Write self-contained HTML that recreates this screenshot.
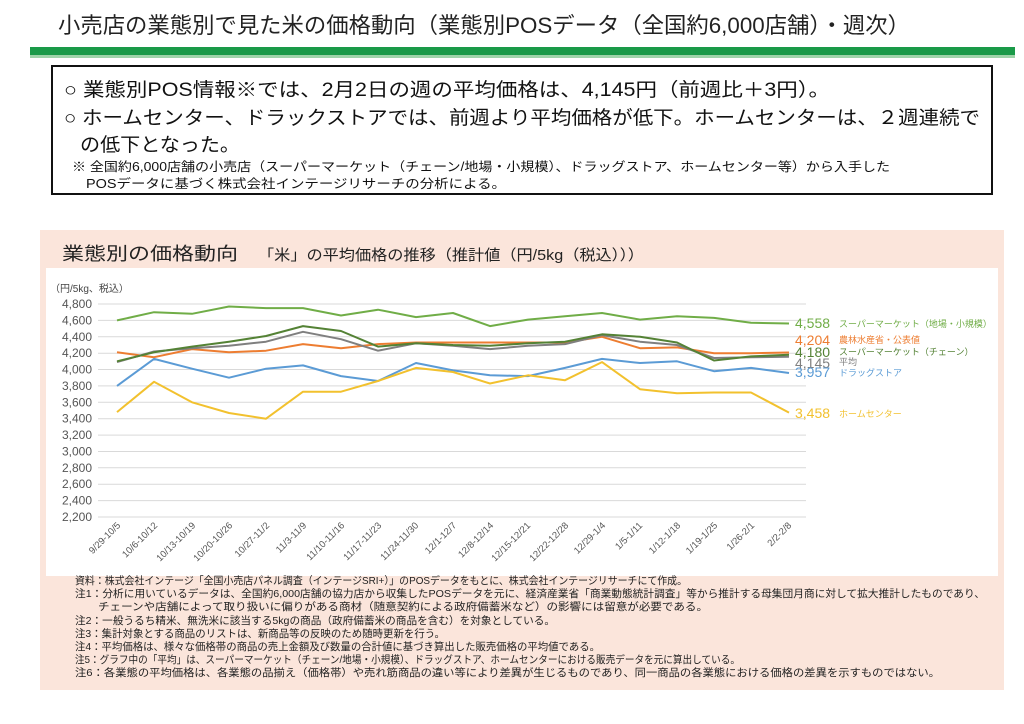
<!DOCTYPE html>
<html><head><meta charset="utf-8"><style>
html,body{margin:0;padding:0;background:#fff;}
svg{display:block;font-family:"Liberation Sans","Noto Sans CJK JP",sans-serif;}
</style></head><body>
<svg width="1024" height="724" viewBox="0 0 1024 724" xmlns="http://www.w3.org/2000/svg">
<rect width="1024" height="724" fill="#fff"/>
<text x="58" y="33" font-size="22" fill="#222" textLength="852" lengthAdjust="spacingAndGlyphs">小売店の業態別で見た米の価格動向（業態別POSデータ（全国約6,000店舗）・週次）</text>
<rect x="30" y="47" width="985" height="8" fill="#1a9a48"/>
<rect x="30" y="55" width="985" height="3" fill="#9fd4a9"/>
<rect x="52" y="66" width="940" height="128" fill="#fff" stroke="#111" stroke-width="2"/>
<text x="64" y="96" font-size="19" fill="#111" textLength="766" lengthAdjust="spacingAndGlyphs">○  業態別POS情報※では、2月2日の週の平均価格は、4,145円（前週比＋3円）。</text>
<text x="64" y="124" font-size="19" fill="#111" textLength="916" lengthAdjust="spacingAndGlyphs">○  ホームセンター、ドラックストアでは、前週より平均価格が低下。ホームセンターは、２週連続で</text>
<text x="80" y="151" font-size="19" fill="#111" textLength="160" lengthAdjust="spacingAndGlyphs">の低下となった。</text>
<text x="72" y="171" font-size="12.5" fill="#111" textLength="818" lengthAdjust="spacingAndGlyphs">※  全国約6,000店舗の小売店（スーパーマーケット（チェーン/地場・小規模）、ドラッグストア、ホームセンター等）から入手した</text>
<text x="86" y="188" font-size="12.5" fill="#111" textLength="420" lengthAdjust="spacingAndGlyphs">POSデータに基づく株式会社インテージリサーチの分析による。</text>

<rect x="40" y="230" width="964" height="460" fill="#fbe5db"/>
<text x="62" y="260" font-size="18" fill="#222" textLength="176" lengthAdjust="spacingAndGlyphs">業態別の価格動向</text>
<text x="258" y="260" font-size="15" fill="#222" textLength="386" lengthAdjust="spacingAndGlyphs">「米」の平均価格の推移（推計値（円/5kg（税込）））</text>
<rect x="46" y="268" width="952" height="308" fill="#fff"/>
<text x="50" y="292" font-size="10" fill="#444">（円/5kg、税込）</text>
<g stroke="#d9d9d9" stroke-width="1">
<line x1="98" x2="806" y1="304" y2="304"/><line x1="98" x2="806" y1="320.4" y2="320.4"/><line x1="98" x2="806" y1="336.8" y2="336.8"/><line x1="98" x2="806" y1="353.2" y2="353.2"/><line x1="98" x2="806" y1="369.5" y2="369.5"/><line x1="98" x2="806" y1="385.9" y2="385.9"/><line x1="98" x2="806" y1="402.3" y2="402.3"/><line x1="98" x2="806" y1="418.7" y2="418.7"/><line x1="98" x2="806" y1="435.1" y2="435.1"/><line x1="98" x2="806" y1="451.5" y2="451.5"/><line x1="98" x2="806" y1="467.8" y2="467.8"/><line x1="98" x2="806" y1="484.2" y2="484.2"/><line x1="98" x2="806" y1="500.6" y2="500.6"/><line x1="98" x2="806" y1="517" y2="517"/>
</g>
<g font-size="12" fill="#555" text-anchor="end">
<text x="92" y="308">4,800</text><text x="92" y="324.4">4,600</text><text x="92" y="340.8">4,400</text><text x="92" y="357.2">4,200</text><text x="92" y="373.5">4,000</text><text x="92" y="389.9">3,800</text><text x="92" y="406.3">3,600</text><text x="92" y="422.7">3,400</text><text x="92" y="439.1">3,200</text><text x="92" y="455.5">3,000</text><text x="92" y="471.8">2,800</text><text x="92" y="488.2">2,600</text><text x="92" y="504.6">2,400</text><text x="92" y="521">2,200</text>
</g>
<g font-size="9.5" fill="#555" text-anchor="end">
<text transform="translate(121,526) rotate(-45)">9/29-10/5</text>
<text transform="translate(158,526) rotate(-45)">10/6-10/12</text>
<text transform="translate(196,526) rotate(-45)">10/13-10/19</text>
<text transform="translate(233,526) rotate(-45)">10/20-10/26</text>
<text transform="translate(270,526) rotate(-45)">10/27-11/2</text>
<text transform="translate(307,526) rotate(-45)">11/3-11/9</text>
<text transform="translate(345,526) rotate(-45)">11/10-11/16</text>
<text transform="translate(382,526) rotate(-45)">11/17-11/23</text>
<text transform="translate(419,526) rotate(-45)">11/24-11/30</text>
<text transform="translate(457,526) rotate(-45)">12/1-12/7</text>
<text transform="translate(494,526) rotate(-45)">12/8-12/14</text>
<text transform="translate(531,526) rotate(-45)">12/15-12/21</text>
<text transform="translate(569,526) rotate(-45)">12/22-12/28</text>
<text transform="translate(606,526) rotate(-45)">12/29-1/4</text>
<text transform="translate(643,526) rotate(-45)">1/5-1/11</text>
<text transform="translate(681,526) rotate(-45)">1/12-1/18</text>
<text transform="translate(718,526) rotate(-45)">1/19-1/25</text>
<text transform="translate(755,526) rotate(-45)">1/26-2/1</text>
<text transform="translate(792,526) rotate(-45)">2/2-2/8</text>
</g>
<g fill="none" stroke-width="2" stroke-linejoin="round">
<polyline stroke="#70ad47" points="117,320.4 154,312.2 192,313.8 229,306.5 266,308.1 303,308.1 341,315.5 378,309.7 416,317.1 453,313 490,326.1 528,319.6 565,316.3 602,313 640,319.6 677,316.3 714,317.9 751,322.8 789,323.5"/>
<polyline stroke="#ed7d31" points="117,352.3 154,357.2 192,349.1 229,352.3 266,350.7 303,344.1 341,348.2 378,344.1 416,342.5 453,342.5 490,342.5 528,342.5 565,342.5 602,336.8 640,348.2 677,347.4 714,353.2 751,353.2 789,352.5"/>
<polyline stroke="#7f7f7f" points="117,362.1 154,351.5 192,348.2 229,345.8 266,341.7 303,331.8 341,339.2 378,350.7 416,343.3 453,345.8 490,349.1 528,345.8 565,344.1 602,335.1 640,341.7 677,345 714,358 751,357.2 789,356.8"/>
<polyline stroke="#548235" points="117,361.3 154,352.3 192,346.6 229,341.7 266,336 303,326.1 341,331 378,346.6 416,343.3 453,345 490,345.8 528,343.3 565,341.7 602,334.3 640,336.8 677,342.5 714,360.5 751,356.4 789,354.8"/>
<polyline stroke="#5b9bd5" points="117,385.9 154,358.9 192,368.7 229,377.7 266,368.7 303,365.4 341,376.1 378,381 416,363 453,370.4 490,375.3 528,376.1 565,367.9 602,358.9 640,363 677,361.3 714,371.2 751,367.9 789,373"/>
<polyline stroke="#f2c12e" points="117,412.1 154,381.8 192,402.3 229,413 266,418.7 303,391.7 341,391.7 378,381 416,367.9 453,372 490,383.5 528,375.3 565,380.2 602,362.1 640,389.2 677,393.3 714,392.5 751,392.5 789,412.6"/>
</g>
<g font-size="14">
<text x="795" y="328" fill="#70ad47">4,558</text>
<text x="795" y="345" fill="#ed7d31">4,204</text>
<text x="795" y="357" fill="#548235">4,180</text>
<text x="795" y="368" fill="#7f7f7f">4,145</text>
<text x="795" y="377" fill="#5b9bd5">3,957</text>
<text x="795" y="418" fill="#f2c12e">3,458</text>
</g>
<g font-size="9">
<text x="839" y="327" fill="#70ad47">スーパーマーケット（地場・小規模）</text>
<text x="839" y="343" fill="#ed7d31">農林水産省・公表値</text>
<text x="839" y="355" fill="#548235">スーパーマーケット（チェーン）</text>
<text x="839" y="365" fill="#7f7f7f">平均</text>
<text x="839" y="376" fill="#5b9bd5">ドラッグストア</text>
<text x="839" y="417" fill="#f2c12e">ホームセンター</text>
</g>
<g font-size="10.5" fill="#222" lengthAdjust="spacingAndGlyphs">
<text x="75" y="584" textLength="612" lengthAdjust="spacingAndGlyphs">資料：株式会社インテージ「全国小売店パネル調査（インテージSRI+）」のPOSデータをもとに、株式会社インテージリサーチにて作成。</text>
<text x="75" y="597" textLength="910" lengthAdjust="spacingAndGlyphs">注1：分析に用いているデータは、全国約6,000店舗の協力店から収集したPOSデータを元に、経済産業省「商業動態統計調査」等から推計する母集団月商に対して拡大推計したものであり、</text>
<text x="98" y="610" textLength="610" lengthAdjust="spacingAndGlyphs">チェーンや店舗によって取り扱いに偏りがある商材（随意契約による政府備蓄米など）の影響には留意が必要である。</text>
<text x="75" y="624" textLength="480" lengthAdjust="spacingAndGlyphs">注2：一般うるち精米、無洗米に該当する5kgの商品（政府備蓄米の商品を含む）を対象としている。</text>
<text x="75" y="637" textLength="370" lengthAdjust="spacingAndGlyphs">注3：集計対象とする商品のリストは、新商品等の反映のため随時更新を行う。</text>
<text x="75" y="650" textLength="525" lengthAdjust="spacingAndGlyphs">注4：平均価格は、様々な価格帯の商品の売上金額及び数量の合計値に基づき算出した販売価格の平均値である。</text>
<text x="75" y="663" textLength="665" lengthAdjust="spacingAndGlyphs">注5：グラフ中の「平均」は、スーパーマーケット（チェーン/地場・小規模）、ドラッグストア、ホームセンターにおける販売データを元に算出している。</text>
<text x="75" y="676" textLength="865" lengthAdjust="spacingAndGlyphs">注6：各業態の平均価格は、各業態の品揃え（価格帯）や売れ筋商品の違い等により差異が生じるものであり、同一商品の各業態における価格の差異を示すものではない。</text>
</g>
</svg>
</body></html>
